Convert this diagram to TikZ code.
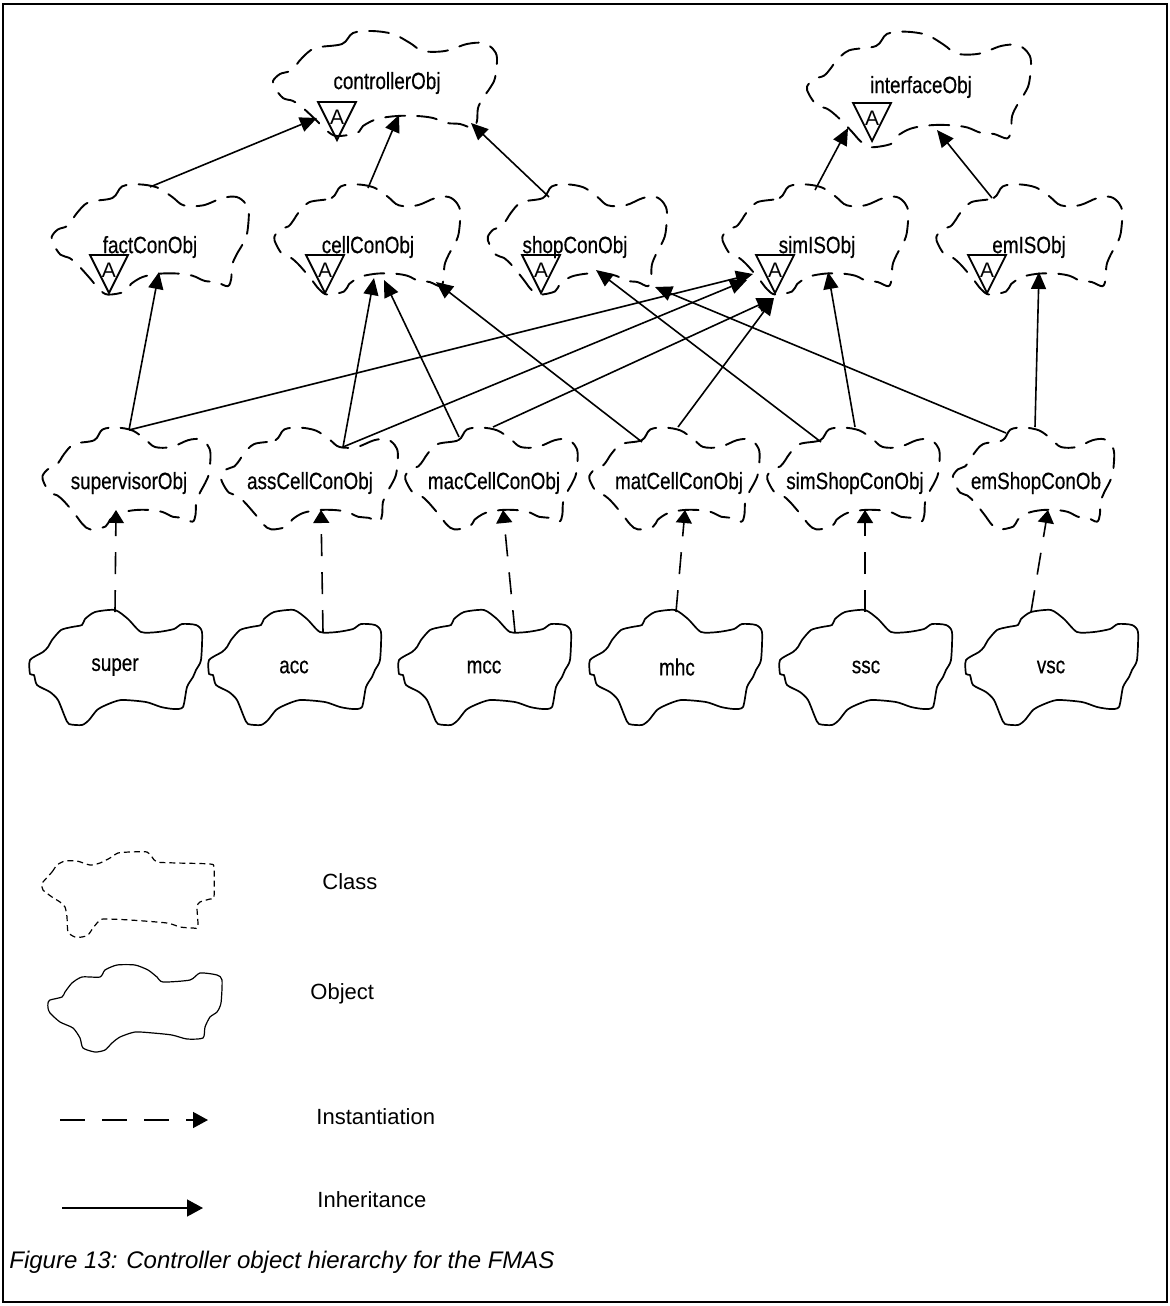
\documentclass[tikz,border=0pt]{standalone}
\usepackage{fontspec}
\setmainfont{Liberation Sans}
\newfontfamily\cloudfont[FakeStretch=0.8,FakeBold=0.4]{Liberation Sans}
\usetikzlibrary{arrows.meta}
\tikzset{
  every node/.style={inner sep=0pt},
  lbl/.style={font=\cloudfont\fontsize{11.8}{14}\selectfont},
  leg/.style={font=\fontsize{11}{13}\selectfont, anchor=west},
  clsline/.style={line width=0.95pt, dash pattern=on 10pt off 6pt, line join=round, line cap=round},
  objline/.style={line width=0.85pt, line join=round},
  inh/.style={line width=0.8pt, -{Triangle[length=8.5pt,width=7.5pt]}},
  inst/.style={line width=0.8pt, dash pattern=on 11pt off 8pt, -{Triangle[length=6.5pt,width=8pt]}},
  classcloud/.pic={\draw[clsline] plot[smooth cycle, tension=0.55] coordinates {
    (-72,-36) (-45,-40) (-34,-51) (-15,-53) (6,-50) (23,-41) (36,-33) (58,-33) (80,-40) (96,-41) (106,-35) (110,-26) (108,-6) (103,4) (96,14) (91,24) (90,37) (86,44) (73,40) (60,39) (46,34) (30,32) (10,32) (-10,35) (-24,42) (-30,49) (-50,52) (-60,47) (-70,37) (-84,24) (-94,17) (-104,14) (-112,4) (-114,-3) (-107,-10) (-97,-13) (-90,-20) (-85,-26)};},
  objcloud/.pic={\draw[objline] plot[smooth cycle, tension=0.4] coordinates {
    (-85,-7) (-72,-15) (-67,-20) (-63,-27) (-54,-37) (-43,-40) (-33,-42) (-30,-48) (-20,-55) (0,-57) (13,-48) (26,-35) (43,-35) (59,-38) (67,-43) (81,-42) (87,-35) (86,-7) (81,3) (78,10) (72,20) (68,40) (59,42) (46,40) (31,35) (6,33) (-9,38) (-18,43) (-26,53) (-33,58) (-46,57) (-50,50) (-57,33) (-65,25) (-78,18) (-81,8) (-85,7)};},
  abstri/.pic={\draw[line width=0.9pt, line join=miter] (0,0) -- (38,0) -- (19,38) -- cycle;
    \node[font=\fontsize{10.5}{12}\selectfont] (-A) at (19,15) {A};},
}
\begin{document}
\begin{tikzpicture}[x=0.5pt,y=-0.5pt]
\useasboundingbox (0,0) rectangle (1170,1306);
\draw[line width=1.4pt] (3,4) rectangle (1167,1302);

% ---------- class labels ----------
\node[lbl] (controllerObj) at (387,83) {controllerObj};
\node[lbl] (interfaceObj) at (921,87) {interfaceObj};
\node[lbl] (factConObj) at (150,247) {factConObj};
\node[lbl] (cellConObj) at (368,247) {cellConObj};
\node[lbl] (shopConObj) at (575,247) {shopConObj};
\node[lbl] (simISObj) at (817,247) {simISObj};
\node[lbl] (emISObj) at (1029,247) {emISObj};
\node[lbl] (supervisorObj) at (129,483) {supervisorObj};
\node[lbl] (assCellConObj) at (310,483) {assCellConObj};
\node[lbl] (macCellConObj) at (494,483) {macCellConObj};
\node[lbl] (matCellConObj) at (679,483) {matCellConObj};
\node[lbl] (simShopConObj) at (855,483) {simShopConObj};
\node[lbl] (emShopConOb) at (1036,483) {emShopConOb};

% ---------- class clouds ----------
\pic at (387,84) {classcloud};
\pic[yscale=1.1] at (921,90) {classcloud};
\pic[xscale=0.88,yscale=1.05] at (152,240) {classcloud};
\pic[xscale=0.83,yscale=1.05] at (369,240) {classcloud};
\pic[xscale=0.80,yscale=1.05] at (579,240) {classcloud};
\pic[xscale=0.83,yscale=1.05] at (817,240) {classcloud};
\pic[xscale=0.83,yscale=1.05] at (1031,240) {classcloud};
\pic[xscale=0.75,yscale=0.97] at (128,479) {classcloud};
\pic[xscale=0.79,yscale=0.97] at (311,479) {classcloud};
\pic[xscale=0.77,yscale=0.97] at (493,479) {classcloud};
\pic[xscale=0.76,yscale=0.97] at (676,479) {classcloud};
\pic[xscale=0.77,yscale=0.97] at (855,479) {classcloud};
\pic[xscale=0.72,yscale=0.97] at (1035,479) {classcloud};

% ---------- abstract markers ----------
\pic (ctrlA) at (318,102) {abstri};
\pic (intfA) at (853,103) {abstri};
\pic (factA) at (90,255) {abstri};
\pic (cellA) at (306,255) {abstri};
\pic (shopA) at (522,255) {abstri};
\pic (simA) at (756,255) {abstri};
\pic (emA) at (968,255) {abstri};

% ---------- objects ----------
\node[lbl] (super) at (115,667) {super};
\node[lbl] (acc) at (294,667) {acc};
\node[lbl] (mcc) at (484,667) {mcc};
\node[lbl] (mhc) at (677,667) {mhc};
\node[lbl] (ssc) at (866,667) {ssc};
\node[lbl] (vsc) at (1051,667) {vsc};
\pic at (115,667) {objcloud};
\pic at (294,667) {objcloud};
\pic at (484,667) {objcloud};
\pic at (675,667) {objcloud};
\pic at (865,667) {objcloud};
\pic at (1051,667) {objcloud};

% ---------- connector end points ----------
\coordinate (factConObj-up) at (150,187);
\coordinate (cellConObj-up) at (368,188);
\coordinate (shopConObj-up) at (549,197);
\coordinate (simISObj-up) at (815,190);
\coordinate (emISObj-up) at (992,198);
\coordinate (ctrl-in1) at (317,118);
\coordinate (ctrl-in2) at (399,115);
\coordinate (ctrl-in3) at (471,123);
\coordinate (intf-in1) at (848,128);
\coordinate (intf-in2) at (937,130);

\coordinate (supervisorObj-up) at (129,430);
\coordinate (assCellConObj-up) at (343,447);
\coordinate (macCellConObj-up1) at (459,437);
\coordinate (macCellConObj-up2) at (493,427);
\coordinate (matCellConObj-up1) at (642,442);
\coordinate (matCellConObj-up2) at (678,427);
\coordinate (simShopConObj-up1) at (821,442);
\coordinate (simShopConObj-up2) at (855,427);
\coordinate (emShopConOb-up1) at (1006,433);
\coordinate (emShopConOb-up2) at (1035,427);

\coordinate (fact-in) at (159,272);
\coordinate (cell-in1) at (374,278);
\coordinate (cell-in2) at (384,280);
\coordinate (cell-in3) at (436,282);
\coordinate (shop-in1) at (596,270);
\coordinate (shop-in2) at (655,287);
\coordinate (sim-in1) at (753,274);
\coordinate (sim-in2) at (747,280);
\coordinate (sim-in3) at (774,298);
\coordinate (sim-in4) at (828,272);
\coordinate (em-in) at (1039,272);

% ---------- inheritance ----------
\draw[inh] (factConObj-up) -- (ctrl-in1);
\draw[inh] (cellConObj-up) -- (ctrl-in2);
\draw[inh] (shopConObj-up) -- (ctrl-in3);
\draw[inh] (simISObj-up) -- (intf-in1);
\draw[inh] (emISObj-up) -- (intf-in2);
\draw[inh] (supervisorObj-up) -- (fact-in);
\draw[inh] (supervisorObj-up) -- (sim-in1);
\draw[inh] (assCellConObj-up) -- (cell-in1);
\draw[inh] (assCellConObj-up) -- (sim-in2);
\draw[inh] (macCellConObj-up1) -- (cell-in2);
\draw[inh] (macCellConObj-up2) -- (sim-in3);
\draw[inh] (matCellConObj-up1) -- (cell-in3);
\draw[inh] (matCellConObj-up2) -- (sim-in3);
\draw[inh] (simShopConObj-up1) -- (shop-in1);
\draw[inh] (simShopConObj-up2) -- (sim-in4);
\draw[inh] (emShopConOb-up1) -- (shop-in2);
\draw[inh] (emShopConOb-up2) -- (em-in);

% ---------- instantiation ----------
\coordinate (super-up) at (115,612);
\coordinate (acc-up) at (323,632);
\coordinate (mcc-up) at (515,632);
\coordinate (mhc-up) at (676,612);
\coordinate (ssc-up) at (865,612);
\coordinate (vsc-up) at (1031,612);
\coordinate (supervisorObj-dn) at (116,510);
\coordinate (assCellConObj-dn) at (321,510);
\coordinate (macCellConObj-dn) at (503,510);
\coordinate (matCellConObj-dn) at (685,510);
\coordinate (simShopConObj-dn) at (865,510);
\coordinate (emShopConOb-dn) at (1048,510);
\draw[inst] (super-up) -- (supervisorObj-dn);
\draw[inst] (acc-up) -- (assCellConObj-dn);
\draw[inst] (mcc-up) -- (macCellConObj-dn);
\draw[inst] (mhc-up) -- (matCellConObj-dn);
\draw[inst] (ssc-up) -- (simShopConObj-dn);
\draw[inst] (vsc-up) -- (emShopConOb-dn);

% ---------- legend ----------
\draw[line width=0.6pt, dash pattern=on 3pt off 2pt] plot[smooth cycle, tension=0.4] coordinates {
 (43,882) (52,872) (57,865) (65,861) (77,861) (90,865) (100,863) (110,858) (118,853) (130,852) (147,852) (152,857) (157,862) (177,863) (210,864) (214,868) (214,897) (210,899) (200,902) (197,907) (198,927) (193,928) (180,927) (167,923) (130,920) (103,919) (98,922) (93,928) (88,935) (82,937) (75,937) (68,932) (67,917) (65,907) (60,902) (52,897) (43,890) (42,885)};
\draw[line width=0.6pt] plot[smooth cycle, tension=0.4] coordinates {
 (48,1003) (50,1000) (62,997) (65,992) (72,983) (82,977) (100,977) (105,970) (117,965) (135,965) (148,970) (157,977) (163,982) (190,980) (200,973) (217,975) (222,980) (221,1003) (217,1012) (210,1017) (205,1027) (203,1038) (187,1039) (172,1035) (153,1033) (135,1032) (120,1037) (112,1043) (105,1050) (95,1052) (83,1048) (80,1038) (73,1028) (60,1022) (50,1013) (48,1008)};
\node[leg] (legClass) at (322,882) {Class};
\node[leg] (legObject) at (310,994) {Object};
\node[leg] (legInst) at (316,1117) {Instantiation};
\node[leg] (legInh) at (317,1200) {Inheritance};
\coordinate (li-s) at (60,1120);
\coordinate (li-e) at (208,1120);
\coordinate (lh-s) at (62,1208);
\coordinate (lh-e) at (203,1208);
\draw[line width=0.7pt, dash pattern=on 12.5pt off 8.5pt, -{Triangle[length=7.5pt,width=8pt]}] (li-s) -- (li-e);
\draw[line width=0.7pt, -{Triangle[length=8pt,width=8.5pt]}] (lh-s) -- (lh-e);

% ---------- caption ----------
\node[anchor=west, font=\itshape\fontsize{12}{14}\selectfont] (caption) at (9,1262) {Figure 13: Controller object hierarchy for the FMAS};
\end{tikzpicture}
\end{document}
